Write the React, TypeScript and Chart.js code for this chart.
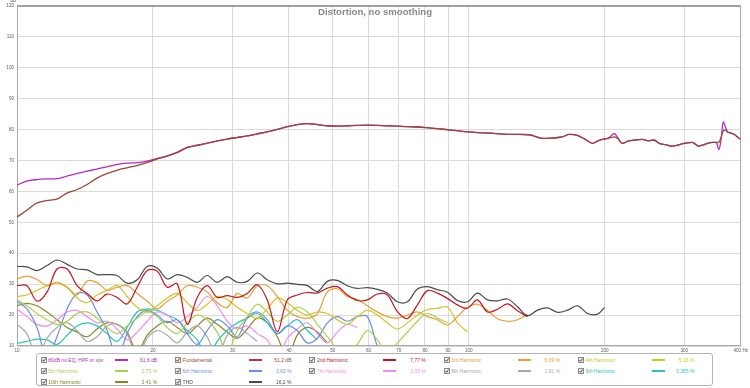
import React, { useEffect, useRef } from 'react';
import { Chart, registerables } from 'chart.js';

Chart.register(...registerables);

// ---------- axis ----------
const X_TICKS = [10, 20, 30, 40, 50, 60, 70, 80, 90, 100, 200, 300, 400];
const Y_MIN = 10;
const Y_MAX = 120;
const Y_STEP = 10;

// ---------- main response curves ----------
const MAIN_FREQ = [10, 10.5, 11.05, 11.6, 12.3, 12.9, 13.6, 14.3, 15.0, 15.8, 16.7, 17.5, 18.5, 19.4, 20.4, 21.5, 22.6, 23.8, 25.1, 26.4, 27.8, 29.2, 30.7, 32.3, 34.0, 35.8, 37.7, 39.7, 41.7, 43.9, 46.2, 48.6, 51.2, 53.9, 56.7, 60, 63, 66, 69.5, 73, 77, 80.6, 85, 89, 94, 100, 105, 112, 119, 128, 136, 140, 145.5, 152, 161, 167, 174, 181, 188, 193, 197.5, 204, 210, 214, 218.6, 225, 234, 242, 250, 257, 264, 273, 282, 290, 298, 305, 312, 318, 323, 330, 338, 346, 353, 358, 362, 366, 370, 374, 380, 388, 397, 400];
const MEAS_80DB = [62.0, 63.3, 63.8, 64.0, 64.1, 64.9, 65.8, 66.5, 67.2, 67.9, 68.7, 69.1, 69.3, 69.8, 70.6, 71.5, 72.6, 74.2, 74.9, 75.6, 76.3, 76.9, 77.4, 77.9, 78.6, 79.2, 80.0, 80.9, 81.6, 81.9, 81.6, 81.2, 81.1, 81.2, 81.3, 81.4, 81.3, 81.2, 81.1, 80.9, 80.8, 80.6, 80.3, 80.0, 79.6, 79.2, 79.0, 78.8, 78.5, 78.4, 78.3, 77.8, 77.1, 77.2, 77.6, 78.4, 78.1, 76.8, 75.5, 76.3, 76.8, 77.2, 78.7, 77.2, 75.5, 76.2, 76.6, 76.8, 76.3, 76.6, 75.5, 75.1, 74.6, 74.9, 75.4, 75.7, 75.8, 75.2, 74.6, 75.0, 75.5, 75.8, 75.8, 73.5, 77.0, 82.5, 80.8, 79.2, 78.9, 78.3, 77.1, 77.0];
const FUNDAMENTAL = [51.7, 53.8, 56.2, 57.0, 57.6, 59.4, 60.6, 62.2, 64.2, 65.7, 66.9, 67.6, 68.4, 69.3, 70.4, 71.4, 72.5, 74.1, 74.9, 75.6, 76.3, 76.9, 77.4, 77.9, 78.6, 79.2, 80.0, 80.9, 81.6, 81.9, 81.6, 81.2, 81.1, 81.2, 81.3, 81.4, 81.3, 81.2, 81.1, 80.9, 80.8, 80.6, 80.3, 80.0, 79.6, 79.2, 79.0, 78.8, 78.5, 78.4, 78.3, 77.8, 77.1, 77.2, 77.6, 78.4, 78.1, 76.8, 75.5, 76.3, 76.8, 77.2, 77.6, 77.0, 75.5, 76.2, 76.6, 76.8, 76.3, 76.6, 75.5, 75.1, 74.6, 74.9, 75.4, 75.7, 75.8, 75.2, 74.6, 75.0, 75.5, 75.8, 75.8, 75.9, 77.5, 79.6, 79.8, 79.2, 78.9, 78.3, 77.1, 77.0];

// ---------- distortion curves ----------
const H_FREQ = [10, 10.52, 11.07, 11.65, 12.26, 12.91, 13.58, 14.3, 15.04, 15.83, 16.66, 17.53, 18.45, 19.42, 20.43, 21.5, 22.63, 23.81, 25.06, 26.36, 27.75, 29.2, 30.73, 32.34, 34.03, 35.81, 37.69, 39.66, 41.73, 43.92, 46.22, 48.64, 51.18, 53.86, 56.68, 59.65, 62.77, 66.05, 69.51, 73.15, 76.98, 81.0, 85.24, 89.7, 94.4, 99.35, 104.5, 110.0, 115.8, 121.8, 128.2, 134.9, 142.0, 149.4, 157.3, 165.5, 174.2, 183.3, 192.9, 200];
const THD = [35.7, 35.6, 34.4, 36.0, 37.8, 36.4, 34.9, 34.6, 33.1, 33.1, 32.8, 30.3, 31.4, 35.7, 35.2, 31.7, 33.1, 32.2, 30.6, 32.8, 30.6, 32.4, 30.6, 30.9, 33.6, 31.4, 30.1, 30.3, 29.9, 29.5, 27.6, 30.9, 31.2, 29.5, 28.6, 28.9, 28.3, 27.1, 24.3, 24.3, 28.4, 29.2, 28.2, 27.4, 24.7, 24.3, 27.1, 24.9, 24.6, 25.2, 22.7, 19.8, 21.6, 22.3, 20.9, 21.6, 23.0, 20.5, 20.3, 22.5];
const H2 = [29.5, 29.5, 24.5, 27.4, 34.9, 34.9, 29.5, 27.0, 24.6, 26.8, 25.7, 23.6, 29.0, 34.4, 34.2, 29.0, 30.1, 17.0, 25.7, 29.5, 25.7, 26.3, 25.7, 27.0, 29.8, 24.9, 14.6, 24.9, 26.5, 27.3, 27.1, 28.7, 29.2, 26.5, 24.7, 24.9, 26.8, 26.5, 21.1, 18.9, 23.3, 27.9, 27.1, 25.4, 23.3, 22.2, 24.9, 21.0, 21.9, 23.6, 21.4, 19.5];
const H3 = [31.7, 32.6, 31.5, 29.5, 30.5, 29.0, 26.5, 31.0, 30.5, 28.0, 29.0, 29.5, 27.0, 24.5, 22.0, 24.5, 26.5, 29.5, 29.0, 27.5, 24.0, 22.5, 27.0, 25.5, 29.5, 29.5, 26.0, 21.5, 19.5, 19.0, 20.5, 27.5, 28.5, 26.0, 25.0, 23.0, 21.0, 19.5, 19.0, 20.0, 21.0, 19.5, 18.5, 16.8, 19.5, 22.5, 23.5, 21.5, 18.8, 18.0, 18.5, 20.3];
const H4 = [26.0, 26.5, 28.0, 29.5, 30.5, 29.0, 25.5, 24.0, 26.5, 28.0, 29.5, 26.0, 22.5, 21.0, 23.0, 25.5, 27.0, 24.0, 21.5, 23.5, 26.0, 25.0, 22.5, 20.5, 19.0, 22.0, 25.5, 24.0, 21.5, 20.0, 21.0, 20.5, 18.5, 17.0, 19.5, 21.5, 20.0, 17.5, 15.5, 17.5, 20.0, 21.8, 22.2, 22.6, 17.5, 14.5];
const H5 = [25.0, 23.0, 20.5, 18.5, 17.0, 18.0, 20.5, 21.0, 19.0, 16.0, 14.0, 16.5, 19.0, 21.0, 19.5, 16.0, 14.0, 17.5, 20.0, 18.5, 14.5, 8.0, 15.0, 19.5, 23.5, 21.0, 18.0, 20.0, 22.5, 21.0, 17.0, 13.0, 9.0, 7.0, 10.5, 15.0, 12.0, 8.0, 11.0, 14.5, 18.0, 20.5, 19.0, 17.5];
const H6 = [24.5, 22.0, 16.0, 6.0, 13.0, 22.0, 27.0, 26.5, 21.0, 15.0, 6.0, 14.0, 19.5, 21.5, 20.0, 17.5, 18.5, 14.0, 10.5, 15.0, 18.5, 16.5, 13.0, 19.0, 21.0, 18.5, 14.0, 16.5, 15.0, 11.0, 12.5, 17.5, 19.5, 18.0, 19.5, 19.5, 10.0, 5.0];
const H7 = [22.0, 19.5, 17.0, 16.5, 18.5, 21.0, 21.5, 19.5, 17.5, 18.0, 15.5, 12.0, 14.5, 18.0, 21.0, 20.0, 17.5, 19.5, 22.5, 26.0, 23.0, 18.0, 15.5, 16.5, 14.0, 12.0, 6.0, 12.5, 15.5, 17.5, 14.0, 11.0, 14.5, 17.0, 16.0];
const H8 = [17.0, 14.0, 6.0, 12.5, 16.0, 17.5, 15.0, 11.5, 13.0, 16.5, 17.0, 14.0, 6.0, 12.5, 15.0, 13.5, 11.0, 14.5, 16.5, 13.0, 6.0, 13.5, 16.0, 14.0, 11.5];
const H9 = [10.8, 11.5, 12.2, 12.0, 10.5, 13.5, 16.5, 17.5, 16.5, 14.0, 11.5, 16.0, 21.0, 22.0, 21.5, 20.0, 18.5, 15.0, 12.0, 6.0, 11.5, 15.0, 17.5, 19.0, 20.5, 17.5, 14.0, 16.5, 18.5, 15.0, 12.0];
const H10 = [23.0, 23.8, 23.0, 21.0, 18.5, 16.0, 14.5, 13.0, 15.5, 17.5, 17.0, 14.5, 8.0, 13.5, 16.5, 18.0, 16.0, 14.0, 16.5, 19.0, 17.0, 14.5, 12.5, 15.5, 19.0, 17.5, 13.0, 6.0, 13.5, 16.0, 14.5, 11.0];

// ---------- legend ----------
const LEGEND_LABELS = ['80dB no EQ, HPF or xov', 'Fundamental', '2nd Harmonic', '3rd Harmonic', '4th Harmonic', '5th Harmonic', '6th Harmonic', '7th Harmonic', '8th Harmonic', '9th Harmonic', '10th Harmonic', 'THD'];
const LEGEND_VALUES = ['61,6 dB', '51,2 dB', '7,77 %', '6,09 %', '5,16 %', '5,75 %', '3,63 %', '3,00 %', '1,61 %', '0,365 %', '3,41 %', '16,2 %'];
const COLORS = ['#b12cc0', '#9e4430', '#c4141c', '#e8a030', '#cfc622', '#a8d048', '#6a8ee8', '#f08ef0', '#a8a8a8', '#28c4c0', '#8c8420', '#4a4a4a'];
const TITLE = 'Distortion, no smoothing';

const FONT = '"Liberation Sans", Arial, sans-serif';

function pts(freqs: number[], vals: number[]) {
  return vals.map((v, i) => ({ x: freqs[i], y: v }));
}

const framePlugin = {
  id: 'frame',
  beforeDatasetsDraw(chart: any) {
    const { ctx, chartArea: a } = chart;
    ctx.save();
    ctx.strokeStyle = '#a8a8a8';
    ctx.lineWidth = 1;
    ctx.strokeRect(Math.round(a.left) + 0.5, Math.round(a.top) + 0.5, Math.round(a.right - a.left) - 1, Math.round(a.bottom - a.top) - 1);
    ctx.strokeStyle = '#a0a0a0';
    ctx.lineWidth = 2;
    ctx.beginPath();
    ctx.moveTo(a.left, Math.round(a.top));
    ctx.lineTo(a.right, Math.round(a.top));
    ctx.stroke();
    ctx.restore();
  },
};

export default function App() {
  const ref = useRef<HTMLCanvasElement>(null);

  useEffect(() => {
    const harmonics = [H2, H3, H4, H5, H6, H7, H8, H9, H10];
    const datasets: any[] = [];
    datasets.push({ label: LEGEND_LABELS[1], data: pts(MAIN_FREQ, FUNDAMENTAL), borderColor: COLORS[1], borderWidth: 1.3, cubicInterpolationMode: 'monotone' });
    datasets.push({ label: LEGEND_LABELS[0], data: pts(MAIN_FREQ, MEAS_80DB), borderColor: COLORS[0], borderWidth: 1.3, cubicInterpolationMode: 'monotone' });
    datasets.push({ label: LEGEND_LABELS[11], data: pts(H_FREQ, THD), borderColor: COLORS[11], borderWidth: 1.2, tension: 0.35 });
    harmonics.forEach((h, i) => {
      datasets.push({ label: LEGEND_LABELS[i + 2], data: pts(H_FREQ, h), borderColor: COLORS[i + 2], borderWidth: 1.2, tension: 0.35 });
    });

    const chart = new Chart(ref.current!, {
      type: 'line',
      data: { datasets },
      plugins: [framePlugin],
      options: {
        responsive: false,
        animation: false,
        devicePixelRatio: 1,
        layout: { padding: { left: 0, right: 8, top: 5, bottom: 32 } },
        elements: { point: { radius: 0 }, line: { fill: false } },
        plugins: { legend: { display: false }, tooltip: { enabled: false }, title: { display: false } },
        scales: {
          x: {
            type: 'logarithmic',
            min: 10,
            max: 400,
            afterBuildTicks: (s: any) => { s.ticks = X_TICKS.map((v) => ({ value: v })); },
            afterFit: (s: any) => { s.height = 10; },
            grid: { color: '#dadada', lineWidth: 1, drawTicks: false },
            border: { display: false },
            ticks: {
              autoSkip: false,
              maxRotation: 0,
              padding: 2,
              color: '#5a5a5a',
              font: { family: FONT, size: 4.6 },
              callback: (v: any) => (Number(v) === 400 ? '400 Hz' : String(v)),
            },
          },
          y: {
            type: 'linear',
            min: Y_MIN,
            max: Y_MAX,
            afterFit: (s: any) => { s.width = 17; },
            grid: { color: '#dadada', lineWidth: 1, drawTicks: false },
            border: { display: false },
            ticks: { stepSize: Y_STEP, padding: 3, color: '#5a5a5a', font: { family: FONT, size: 4.6 } },
          },
        },
      },
    });
    return () => chart.destroy();
  }, []);

  const legendItems = LEGEND_LABELS.map((label, k) => {
    const col = k % 5;
    const row = Math.floor(k / 5);
    const x0 = 40.7 + 134.3 * col;
    const yc = 360 + 11 * row;
    const color = COLORS[k];
    return (
      <React.Fragment key={label}>
        <svg style={{ position: 'absolute', left: x0, top: yc - 3 }} width={6} height={6}>
          <rect x={0.5} y={0.5} width={5} height={5} fill="#eeeeee" stroke="#8a8a8a" strokeWidth={1} />
          <polyline points="1.5,3 2.6,4.3 4.6,1.5" fill="none" stroke="#333" strokeWidth={0.9} />
        </svg>
        <div style={{ position: 'absolute', left: x0 + 7.6, top: yc - 3, fontSize: 5, lineHeight: '6px', color, whiteSpace: 'nowrap' }}>{label}</div>
        <div style={{ position: 'absolute', left: x0 + 74, top: yc - 0.75, width: 13, height: 1.5, background: color }} />
        <div style={{ position: 'absolute', left: x0 + 116.5 - 40, top: yc - 3, width: 40, textAlign: 'right', fontSize: 5, lineHeight: '6px', color, whiteSpace: 'nowrap' }}>{LEGEND_VALUES[k]}</div>
      </React.Fragment>
    );
  });

  return (
    <div style={{ position: 'absolute', left: 0, top: 0, width: 750, height: 388, background: '#ffffff', overflow: 'hidden', fontFamily: FONT }}>
      <canvas ref={ref} width={750} height={388} style={{ position: 'absolute', left: 0, top: 0, width: 750, height: 388 }} />
      <div style={{ position: 'absolute', left: 0, top: 6, width: 750, textAlign: 'center', fontSize: 9.6, fontWeight: 'bold', lineHeight: '12px', color: '#8a8a8a' }}>{TITLE}</div>
      <div style={{ position: 'absolute', left: 10.5, top: -2.2, fontSize: 4.6, lineHeight: '5px', color: '#5a5a5a' }}>dB</div>
      <div style={{ position: 'absolute', left: 36, top: 353, width: 677, height: 33, border: '1px solid #b4b4b4', borderRadius: 3, boxSizing: 'border-box', background: '#ffffff' }} />
      {legendItems}
    </div>
  );
}
